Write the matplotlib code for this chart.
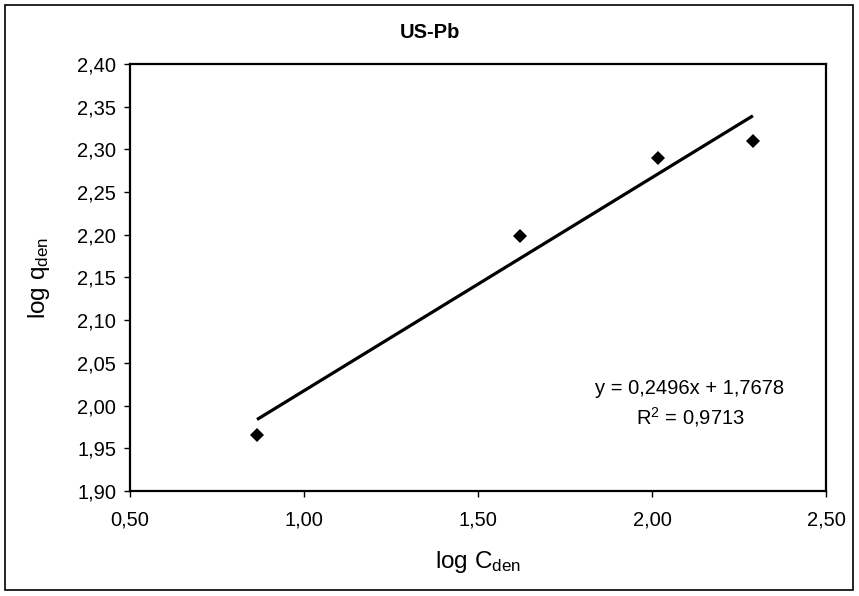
import matplotlib
matplotlib.use("Agg")
import matplotlib.pyplot as plt
from matplotlib.ticker import FuncFormatter, MultipleLocator
from matplotlib.patches import Rectangle
import numpy as np

plt.rcParams['font.family'] = ['Liberation Sans', 'DejaVu Sans']
plt.rcParams['mathtext.fontset'] = 'custom'
plt.rcParams['mathtext.rm'] = 'Liberation Sans'
plt.rcParams['mathtext.it'] = 'Liberation Sans'

# Data
log_C = [0.865, 1.62, 2.017, 2.29]
log_q = [1.965, 2.199, 2.29, 2.31]
slope = 0.2496
intercept = 1.7678
r2 = 0.9713
title = "US-Pb"

fig = plt.figure(figsize=(8.59, 5.96), dpi=100)
fig.patches.append(Rectangle((5/859, 6/596), 848/859, 585/596, transform=fig.transFigure,
                             fill=False, edgecolor='black', linewidth=1.2))

ax = fig.add_axes([130/859, 1-491/596, 696/859, 427/596])

xs = np.array([min(log_C), max(log_C)])
ax.plot(xs, slope*xs + intercept, color='black', linewidth=2.3, solid_capstyle='butt')
ax.plot(log_C, log_q, linestyle='none', marker='D', markersize=6.8,
        color='black', markeredgewidth=0)

ax.set_xlim(0.5, 2.5)
ax.set_ylim(1.90, 2.40)
ax.xaxis.set_major_locator(MultipleLocator(0.5))
ax.yaxis.set_major_locator(MultipleLocator(0.05))
fmt = FuncFormatter(lambda v, p: f"{v:.2f}".replace('.', ','))
ax.xaxis.set_major_formatter(fmt)
ax.yaxis.set_major_formatter(fmt)
ax.tick_params(axis='both', direction='out', length=4, width=1, labelsize=14.5, colors='black')
ax.tick_params(axis='x', pad=10)
ax.tick_params(axis='y', pad=6)
for s in ax.spines.values():
    s.set_linewidth(1.6)
    s.set_color('black')

ax.set_xlabel(r"log C$_{\mathrm{den}}$", fontsize=17.5, labelpad=14)
ax.set_ylabel(r"log q$_{\mathrm{den}}$", fontsize=17.5, labelpad=18)

fig.text(0.5, 1-33/596, title, ha='center', va='center', fontsize=14.5, fontweight='bold')

eq = f"y = {slope:.4f}x + {intercept:.4f}".replace('.', ',')
ax.text(0.8046, 0.241, eq, transform=ax.transAxes, ha='center', va='center', fontsize=14.5)
ax.text(0.8046, 0.173, r"R$^2$ = " + f"{r2:.4f}".replace('.', ','), transform=ax.transAxes,
        ha='center', va='center', fontsize=14.5)

fig.savefig("out.png", dpi=100)
